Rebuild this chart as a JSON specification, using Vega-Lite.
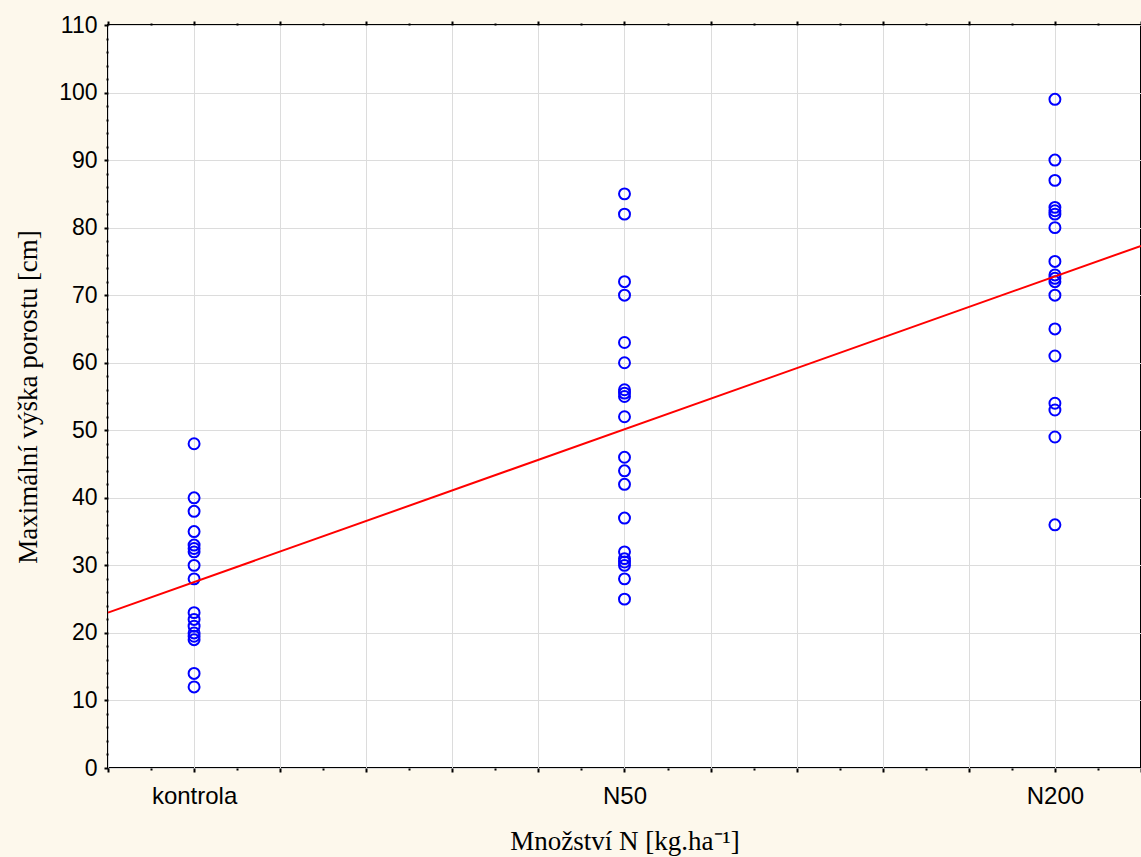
{
  "$schema": "https://vega.github.io/schema/vega-lite/v6.json",
  "width": 1033,
  "height": 743,
  "autosize": {"type": "none"},
  "padding": {"left": 108, "top": 25, "right": 0, "bottom": 89},
  "background": "#fdf8ec",
  "config": {
    "view": {"fill": "white", "stroke": "black", "strokeWidth": 2}
  },
  "datasets": {
    "points": [
      {"group": "kontrola", "level": 1, "height": 48},
      {"group": "kontrola", "level": 1, "height": 40},
      {"group": "kontrola", "level": 1, "height": 38},
      {"group": "kontrola", "level": 1, "height": 35},
      {"group": "kontrola", "level": 1, "height": 33},
      {"group": "kontrola", "level": 1, "height": 32.5},
      {"group": "kontrola", "level": 1, "height": 32},
      {"group": "kontrola", "level": 1, "height": 30},
      {"group": "kontrola", "level": 1, "height": 28},
      {"group": "kontrola", "level": 1, "height": 23},
      {"group": "kontrola", "level": 1, "height": 22},
      {"group": "kontrola", "level": 1, "height": 21},
      {"group": "kontrola", "level": 1, "height": 20},
      {"group": "kontrola", "level": 1, "height": 19.5},
      {"group": "kontrola", "level": 1, "height": 19},
      {"group": "kontrola", "level": 1, "height": 14},
      {"group": "kontrola", "level": 1, "height": 12},
      {"group": "N50", "level": 2, "height": 85},
      {"group": "N50", "level": 2, "height": 82},
      {"group": "N50", "level": 2, "height": 72},
      {"group": "N50", "level": 2, "height": 70},
      {"group": "N50", "level": 2, "height": 63},
      {"group": "N50", "level": 2, "height": 60},
      {"group": "N50", "level": 2, "height": 56},
      {"group": "N50", "level": 2, "height": 55.5},
      {"group": "N50", "level": 2, "height": 55},
      {"group": "N50", "level": 2, "height": 52},
      {"group": "N50", "level": 2, "height": 46},
      {"group": "N50", "level": 2, "height": 44},
      {"group": "N50", "level": 2, "height": 42},
      {"group": "N50", "level": 2, "height": 37},
      {"group": "N50", "level": 2, "height": 32},
      {"group": "N50", "level": 2, "height": 31},
      {"group": "N50", "level": 2, "height": 30.5},
      {"group": "N50", "level": 2, "height": 30},
      {"group": "N50", "level": 2, "height": 28},
      {"group": "N50", "level": 2, "height": 25},
      {"group": "N200", "level": 3, "height": 99},
      {"group": "N200", "level": 3, "height": 90},
      {"group": "N200", "level": 3, "height": 87},
      {"group": "N200", "level": 3, "height": 83},
      {"group": "N200", "level": 3, "height": 82.5},
      {"group": "N200", "level": 3, "height": 82},
      {"group": "N200", "level": 3, "height": 80},
      {"group": "N200", "level": 3, "height": 75},
      {"group": "N200", "level": 3, "height": 73},
      {"group": "N200", "level": 3, "height": 72.5},
      {"group": "N200", "level": 3, "height": 72},
      {"group": "N200", "level": 3, "height": 70},
      {"group": "N200", "level": 3, "height": 65},
      {"group": "N200", "level": 3, "height": 61},
      {"group": "N200", "level": 3, "height": 54},
      {"group": "N200", "level": 3, "height": 53},
      {"group": "N200", "level": 3, "height": 49},
      {"group": "N200", "level": 3, "height": 36}
    ],
    "fit": [
      {"level": 0.8, "height": 23.0},
      {"level": 3.2, "height": 77.3}
    ]
  },
  "layer": [
    {
      "data": {"name": "points"},
      "mark": {"type": "point", "shape": "circle", "filled": false, "color": "#0000ff", "size": 120, "strokeWidth": 2, "opacity": 1},
      "encoding": {
        "x": {
          "field": "level", "type": "quantitative",
          "scale": {"domain": [0.8, 3.2], "nice": false, "zero": false},
          "axis": {
            "orient": "bottom",
            "values": [0.8,0.9,1,1.1,1.2,1.3,1.4,1.5,1.6,1.7,1.8,1.9,2,2.1,2.2,2.3,2.4,2.5,2.6,2.7,2.8,2.9,3,3.1,3.2],
            "grid": true,
            "gridColor": "#dcdcdc",
            "gridWidth": 1,
            "gridOpacity": {"condition": {"test": "abs(datum.value*5-round(datum.value*5))<0.01", "value": 1}, "value": 0},
            "domain": false,
            "tickColor": "black",
            "tickWidth": 2,
            "tickSize": {"condition": {"test": "abs(datum.value*5-round(datum.value*5))<0.01", "value": 4}, "value": 2},
            "encode": {"ticks": {"update": {"y": {"signal": "abs(datum.value*5-round(datum.value*5))<0.01 ? -4 : -2"}}}},
            "labelExpr": "abs(datum.value-1)<0.01 ? 'kontrola' : abs(datum.value-2)<0.01 ? 'N50' : abs(datum.value-3)<0.01 ? 'N200' : ''",
            "labelFont": "Liberation Sans",
            "labelFontSize": 24,
            "labelColor": "#000000",
            "labelPadding": 12,
            "labelOverlap": false,
            "labelFlush": false,
            "labelBound": false,
            "title": "Množství N [kg.ha⁻¹]",
            "titleFont": "Liberation Serif",
            "titleFontSize": 27,
            "titleFontWeight": "normal",
            "titleColor": "#000000",
            "titlePadding": 20
          }
        },
        "y": {
          "field": "height", "type": "quantitative",
          "scale": {"domain": [0, 110], "nice": false, "zero": true},
          "axis": {
            "orient": "left",
            "values": [0,2,4,6,8,10,12,14,16,18,20,22,24,26,28,30,32,34,36,38,40,42,44,46,48,50,52,54,56,58,60,62,64,66,68,70,72,74,76,78,80,82,84,86,88,90,92,94,96,98,100,102,104,106,108,110],
            "grid": true,
            "gridColor": "#dcdcdc",
            "gridWidth": 1,
            "gridOpacity": {"condition": {"test": "datum.value % 10 == 0", "value": 1}, "value": 0},
            "domain": false,
            "tickColor": "black",
            "tickWidth": 2,
            "tickSize": {"condition": {"test": "datum.value % 10 == 0", "value": 4}, "value": 2},
            "encode": {"ticks": {"update": {"x": {"signal": "datum.value % 10 == 0 ? 4 : 2"}}}},
            "labelExpr": "datum.value % 10 == 0 ? datum.label : ''",
            "labelFont": "Liberation Sans",
            "labelFontSize": 23,
            "labelColor": "#000000",
            "labelPadding": 7,
            "labelOverlap": false,
            "labelFlush": false,
            "labelBound": false,
            "title": "Maximální výška porostu [cm]",
            "titleFont": "Liberation Serif",
            "titleFontSize": 27,
            "titleFontWeight": "normal",
            "titleColor": "#000000",
            "titlePadding": 16
          }
        }
      }
    },
    {
      "data": {"name": "fit"},
      "mark": {"type": "line", "color": "#ff0000", "strokeWidth": 2},
      "encoding": {
        "x": {
          "field": "level", "type": "quantitative",
          "axis": {
            "orient": "top",
            "values": [0.8,0.9,1,1.1,1.2,1.3,1.4,1.5,1.6,1.7,1.8,1.9,2,2.1,2.2,2.3,2.4,2.5,2.6,2.7,2.8,2.9,3,3.1,3.2],
            "grid": false,
            "domain": false,
            "labels": false,
            "title": null,
            "tickColor": "black",
            "tickWidth": 2,
            "tickSize": {"condition": {"test": "abs(datum.value*5-round(datum.value*5))<0.01", "value": 4}, "value": 2},
            "encode": {"ticks": {"update": {"y": {"signal": "abs(datum.value*5-round(datum.value*5))<0.01 ? 4 : 2"}}}}
          }
        },
        "y": {
          "field": "height", "type": "quantitative",
          "axis": {
            "orient": "right",
            "values": [0,2,4,6,8,10,12,14,16,18,20,22,24,26,28,30,32,34,36,38,40,42,44,46,48,50,52,54,56,58,60,62,64,66,68,70,72,74,76,78,80,82,84,86,88,90,92,94,96,98,100,102,104,106,108,110],
            "grid": false,
            "domain": false,
            "labels": false,
            "title": null,
            "tickColor": "black",
            "tickWidth": 2,
            "tickSize": {"condition": {"test": "datum.value % 10 == 0", "value": 4}, "value": 2},
            "encode": {"ticks": {"update": {"x": {"signal": "datum.value % 10 == 0 ? -4 : -2"}}}}
          }
        }
      }
    }
  ],
  "resolve": {"axis": {"x": "independent", "y": "independent"}}
}
